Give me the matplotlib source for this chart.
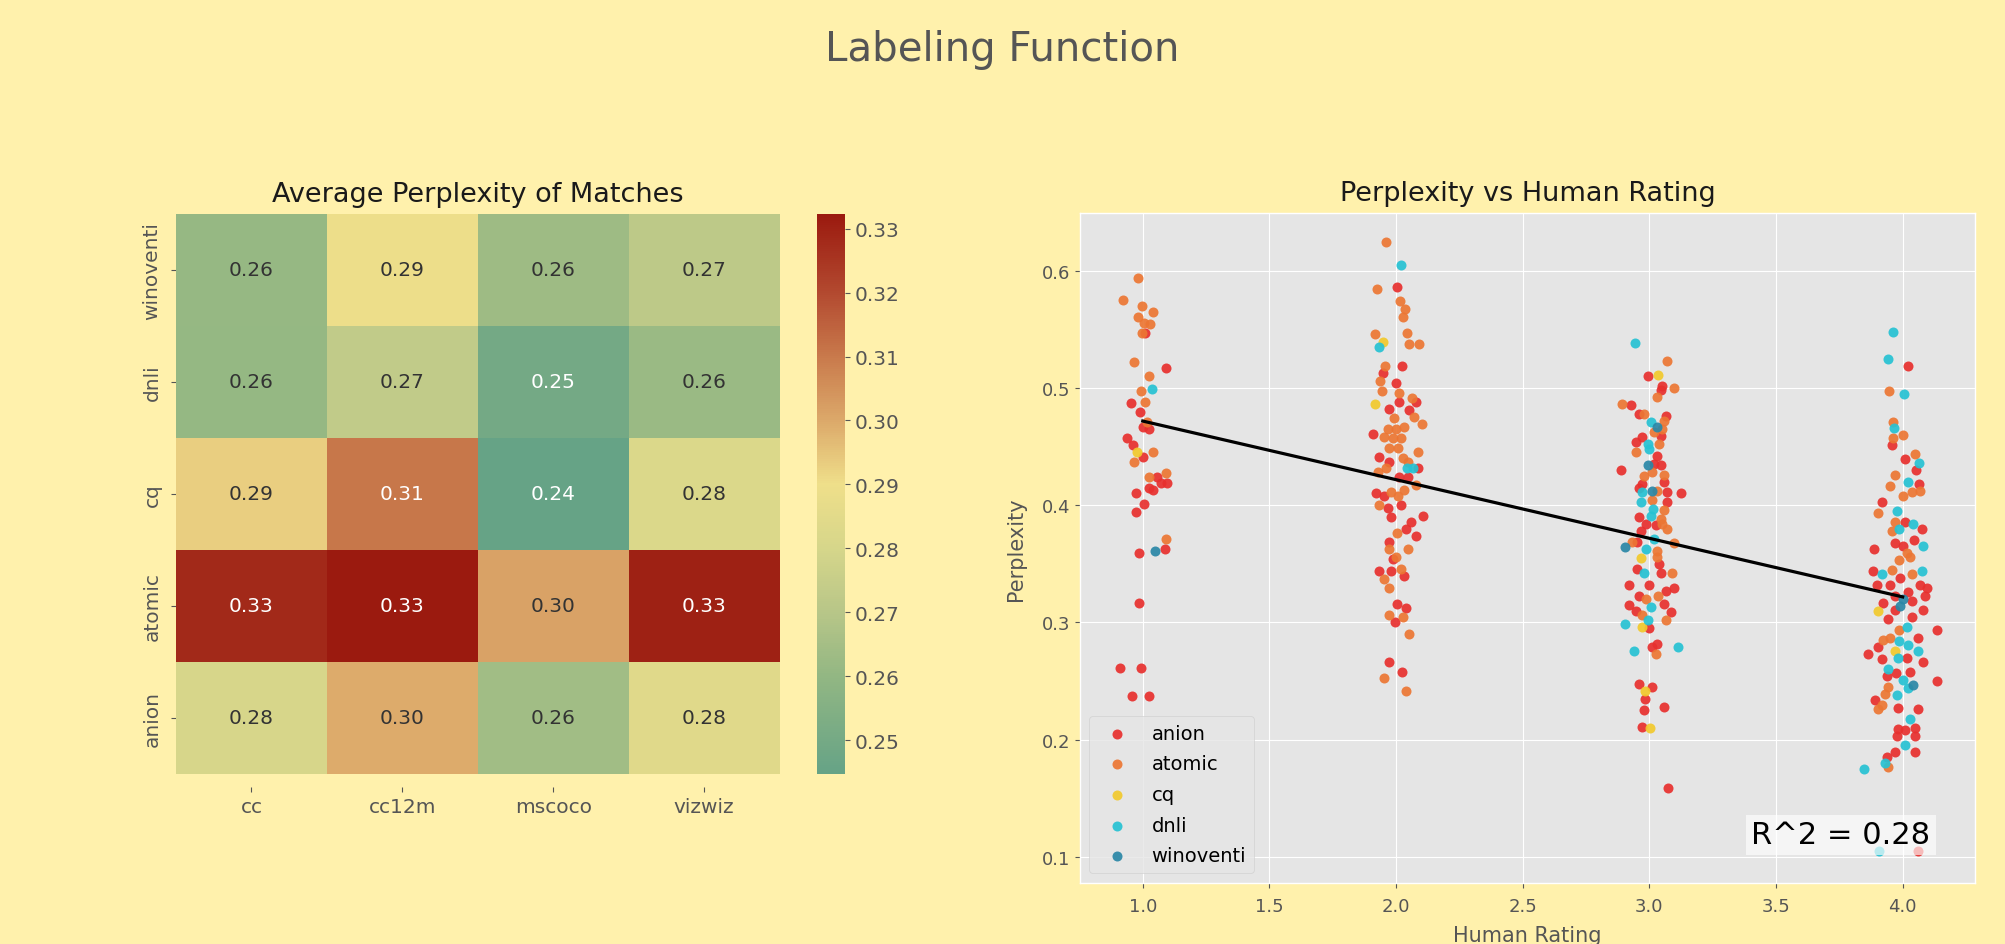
import matplotlib
matplotlib.use("Agg")
import matplotlib.pyplot as plt
import numpy as np
import pandas as pd
import seaborn as sns
from matplotlib.colors import LinearSegmentedColormap

# heatmap data
rows = ["winoventi", "dnli", "cq", "atomic", "anion"]
cols = ["cc", "cc12m", "mscoco", "vizwiz"]
perp_cc = [0.261, 0.2605, 0.293, 0.3285, 0.2805]
perp_cc12m = [0.289, 0.273, 0.3105, 0.3323, 0.2995]
perp_mscoco = [0.263, 0.2495, 0.2447, 0.3015, 0.264]
perp_vizwiz = [0.272, 0.262, 0.282, 0.3305, 0.284]

# scatter data (human rating with jitter, perplexity)
anion_x = [1.009, 1.092, 0.955, 0.989, 1.0, 1.026, 0.937, 0.961, 1.0, 1.055, 1.026, 1.042, 1.071, 1.095,
           0.974, 1.003, 0.974, 1.088, 0.984, 0.984, 0.91, 0.995, 0.957, 1.024,
           2.004, 1.947, 2.022, 2.0, 2.013, 2.079, 1.974, 2.053, 1.908, 1.934, 1.974, 2.086, 2.013, 2.046,
           1.921, 1.954, 1.967, 2.020, 1.980, 2.108, 2.059, 2.039, 2.079, 1.974, 1.987, 1.934, 1.980,
           2.030, 2.004, 2.039, 1.995, 1.974, 2.022,
           2.996, 3.051, 3.045, 2.926, 2.959, 3.064, 3.045, 2.972, 2.946, 3.032, 2.887, 3.018, 3.045,
           2.972, 3.058, 2.959, 3.071, 3.126, 3.071, 2.959, 2.986, 3.025, 2.966, 2.953, 2.953, 3.038,
           3.045, 2.920, 2.959, 3.0, 3.097, 3.064, 2.920, 2.946, 3.058, 3.084, 3.0, 3.012, 3.032, 2.959,
           3.009, 2.982, 3.058, 2.979, 2.972, 3.075,
           4.022, 3.957, 4.009, 4.051, 4.064, 3.917, 4.009, 4.075, 4.046, 3.888, 3.970, 4.003, 3.884,
           3.989, 3.950, 3.897, 4.068, 4.095, 4.022, 3.970, 4.088, 4.036, 3.924, 4.082, 3.970, 4.036,
           3.943, 4.134, 4.062, 3.901, 3.862, 3.917, 4.016, 4.082, 4.029, 3.974, 3.937, 4.134, 3.891,
           3.983, 4.062, 3.983, 4.009, 4.049, 3.976, 4.049, 3.970, 4.049, 3.937, 4.06]
anion_y = [0.547, 0.517, 0.487, 0.479, 0.467, 0.465, 0.457, 0.451, 0.441, 0.424, 0.415, 0.413, 0.419, 0.419,
           0.410, 0.401, 0.394, 0.363, 0.359, 0.317, 0.261, 0.261, 0.237, 0.237,
           0.586, 0.513, 0.519, 0.504, 0.488, 0.488, 0.482, 0.481, 0.461, 0.441, 0.437, 0.432, 0.424, 0.424,
           0.410, 0.408, 0.398, 0.400, 0.390, 0.391, 0.386, 0.380, 0.374, 0.369, 0.354, 0.344, 0.344,
           0.340, 0.316, 0.312, 0.300, 0.266, 0.258,
           0.510, 0.502, 0.498, 0.485, 0.478, 0.476, 0.459, 0.458, 0.454, 0.442, 0.430, 0.435, 0.434,
           0.418, 0.420, 0.415, 0.411, 0.410, 0.403, 0.390, 0.384, 0.383, 0.378, 0.369, 0.346, 0.350,
           0.342, 0.332, 0.323, 0.332, 0.329, 0.327, 0.315, 0.310, 0.316, 0.309, 0.295, 0.279, 0.282, 0.248,
           0.245, 0.235, 0.228, 0.225, 0.211, 0.159,
           0.519, 0.451, 0.439, 0.430, 0.418, 0.403, 0.386, 0.380, 0.370, 0.363, 0.368, 0.365, 0.344,
           0.338, 0.332, 0.332, 0.332, 0.329, 0.326, 0.323, 0.323, 0.318, 0.317, 0.311, 0.311, 0.305,
           0.303, 0.294, 0.287, 0.279, 0.273, 0.269, 0.270, 0.266, 0.258, 0.257, 0.254, 0.250, 0.234,
           0.227, 0.226, 0.209, 0.208, 0.210, 0.203, 0.203, 0.190, 0.190, 0.185, 0.105]

atomic_x = [0.983, 0.921, 0.996, 1.042, 0.983, 1.003, 1.029, 0.996, 0.966, 1.024, 0.995, 1.007, 1.016,
            0.966, 1.042, 1.026, 1.092, 1.092,
            1.961, 1.926, 2.017, 2.036, 2.029, 1.918, 2.045, 2.053, 2.089, 1.955, 1.938, 1.943, 2.013,
            2.063, 1.993, 2.070, 2.103, 1.967, 2.0, 2.033, 1.954, 1.987, 2.020, 1.974, 2.007, 2.086,
            2.026, 2.046, 1.928, 1.961, 2.079, 1.980, 2.007, 2.033, 1.934, 2.003, 1.974, 2.046, 2.0,
            2.018, 1.954, 1.974, 1.974, 2.026, 2.050, 1.954, 2.039,
            3.068, 3.097, 3.032, 2.891, 2.979, 3.058, 3.051, 3.018, 3.038, 2.946, 2.979, 3.012, 3.058,
            3.032, 3.012, 3.058, 3.045, 3.051, 3.071, 2.933, 3.099, 3.032, 3.032, 3.091, 3.036, 2.986,
            2.972, 3.067, 3.028,
            3.946, 3.963, 4.003, 3.963, 4.049, 3.970, 3.950, 4.036, 4.068, 4.003, 3.901, 3.970, 3.957,
            4.016, 4.029, 3.984, 3.957, 4.036, 3.984, 3.950, 3.924, 3.941, 3.930, 3.917, 3.904, 3.943]
atomic_y = [0.594, 0.575, 0.570, 0.565, 0.560, 0.555, 0.554, 0.547, 0.522, 0.510, 0.497, 0.488, 0.471,
            0.437, 0.445, 0.424, 0.427, 0.371,
            0.624, 0.584, 0.574, 0.567, 0.560, 0.546, 0.547, 0.537, 0.537, 0.519, 0.506, 0.497, 0.496,
            0.491, 0.474, 0.475, 0.469, 0.465, 0.465, 0.467, 0.458, 0.457, 0.457, 0.449, 0.449, 0.445,
            0.440, 0.437, 0.428, 0.432, 0.417, 0.411, 0.408, 0.413, 0.400, 0.376, 0.363, 0.363, 0.356,
            0.346, 0.337, 0.329, 0.306, 0.305, 0.290, 0.253, 0.242,
            0.523, 0.500, 0.492, 0.486, 0.478, 0.472, 0.465, 0.462, 0.452, 0.445, 0.425, 0.428, 0.426,
            0.412, 0.404, 0.396, 0.388, 0.384, 0.380, 0.369, 0.368, 0.361, 0.356, 0.342, 0.323, 0.320,
            0.306, 0.302, 0.273,
            0.497, 0.471, 0.460, 0.457, 0.444, 0.426, 0.416, 0.411, 0.412, 0.408, 0.393, 0.386, 0.378,
            0.359, 0.356, 0.353, 0.345, 0.341, 0.294, 0.287, 0.285, 0.245, 0.239, 0.230, 0.226, 0.177]

cq_x = [0.976, 1.950, 1.918, 3.036, 2.966, 2.972, 2.982, 3.001, 3.901, 3.970]
cq_y = [0.445, 0.539, 0.486, 0.511, 0.355, 0.296, 0.242, 0.210, 0.310, 0.276]

dnli_x = [1.036, 2.020, 1.932, 2.045, 2.065,
          2.943, 3.005, 2.993, 3.0, 2.972, 2.966, 3.014, 3.005, 3.018, 2.986, 2.979, 3.005, 2.993,
          2.904, 2.939, 3.114,
          3.961, 3.941, 4.004, 3.967, 4.064, 4.022, 3.976, 4.042, 3.984, 4.082, 3.920, 4.075, 4.016,
          3.984, 4.022, 4.059, 3.980, 3.943, 4.003, 4.022, 3.976, 4.029, 4.009, 3.930, 3.849, 3.905]
dnli_y = [0.499, 0.605, 0.535, 0.432, 0.432,
          0.538, 0.471, 0.452, 0.448, 0.411, 0.403, 0.397, 0.391, 0.371, 0.363, 0.342, 0.313, 0.302,
          0.299, 0.276, 0.279,
          0.548, 0.525, 0.495, 0.466, 0.436, 0.420, 0.395, 0.384, 0.380, 0.365, 0.341, 0.344, 0.296,
          0.284, 0.281, 0.276, 0.270, 0.260, 0.251, 0.244, 0.238, 0.218, 0.196, 0.180, 0.175, 0.105]

winoventi_x = [1.047, 3.032, 2.993, 3.012, 2.904, 4.003, 3.989, 4.042]
winoventi_y = [0.361, 0.467, 0.434, 0.412, 0.364, 0.320, 0.314, 0.247]

fit_x = [1.0, 4.0]
fit_y = [0.4717, 0.3218]
r2 = 0.28

bg = "#fff1ac"
plt.style.use("ggplot")

fig = plt.figure(figsize=(20.05, 9.45), dpi=100, facecolor=bg)
ax1 = fig.add_axes([0.0878, 0.1799, 0.3010, 0.5926])
cax = fig.add_axes([0.4077, 0.1799, 0.0139, 0.5926])
ax2 = fig.add_axes([0.5385, 0.0646, 0.4466, 0.7089])

fig.text(0.5, 1 - 61 / 945, "Labeling Function", ha="center", va="baseline", fontsize=29, color="#555555")

# heatmap
df = pd.DataFrame({"cc": perp_cc, "cc12m": perp_cc12m, "mscoco": perp_mscoco, "vizwiz": perp_vizwiz},
                  index=rows)[cols]
cmap = LinearSegmentedColormap.from_list("perp", [
    (0.0, "#66a386"), (0.175, "#93b783"), (0.289, "#b8c688"), (0.403, "#d6d68a"),
    (0.517, "#efdf8a"), (0.631, "#dca96a"), (0.745, "#c97a4c"), (0.859, "#b34a30"), (1.0, "#9b1a0f")])
sns.heatmap(df, annot=True, fmt=".2f", cmap=cmap, ax=ax1, cbar_ax=cax,
            annot_kws={"size": 14.5})
ax1.grid(False)
ax1.set_title("Average Perplexity of Matches", fontsize=19.5, pad=9.4, color="#1a1a1a")
ax1.tick_params(labelsize=14.5, colors="#555555")
ax1.tick_params(axis="y", pad=7)
ax1.spines["bottom"].set_position(("outward", 9.5))
ax1.set_yticklabels(rows, rotation=90, va="center")
ax1.set_xticklabels(cols, rotation=0)
for t in ax1.texts:
    if t.get_color() != "w":
        t.set_color("#333333")
cbar = ax1.collections[0].colorbar
cbar.set_ticks(np.arange(0.25, 0.3301, 0.01))
cbar.set_ticklabels(["%.2f" % t for t in np.arange(0.25, 0.3301, 0.01)])
cax.tick_params(labelsize=14.5, colors="#555555")

# scatter
groups = [("anion", anion_x, anion_y, "#e8302e"),
          ("atomic", atomic_x, atomic_y, "#ec7633"),
          ("cq", cq_x, cq_y, "#f2c92c"),
          ("dnli", dnli_x, dnli_y, "#26c2d3"),
          ("winoventi", winoventi_x, winoventi_y, "#2a87a6")]
for name, xs, ys, col in groups:
    ax2.scatter(xs, ys, s=52, color=col, alpha=0.92, linewidths=0, label=name)
ax2.plot(fit_x, fit_y, color="black", lw=2.3)
ax2.set_xlim(0.751, 4.286)
ax2.set_ylim(0.078, 0.649)
ax2.set_title("Perplexity vs Human Rating", fontsize=19.5, pad=9.4, color="#1a1a1a")
ax2.tick_params(labelsize=13)
ax2.tick_params(axis="x", pad=6.5)
ax2.set_xlabel("Human Rating", fontsize=15, labelpad=7.5)
ax2.set_ylabel("Perplexity", fontsize=15, labelpad=11)
ax2.legend(loc="lower left", fontsize=14, labelspacing=0.6)
ax2.text(0.95, 0.05, "R^2 = %.2f" % r2, transform=ax2.transAxes, ha="right", va="bottom", fontsize=22,
         color="black", bbox=dict(facecolor="white", alpha=0.65, edgecolor="none", pad=4), zorder=5)

fig.savefig("out.png", dpi=100, facecolor=bg)
